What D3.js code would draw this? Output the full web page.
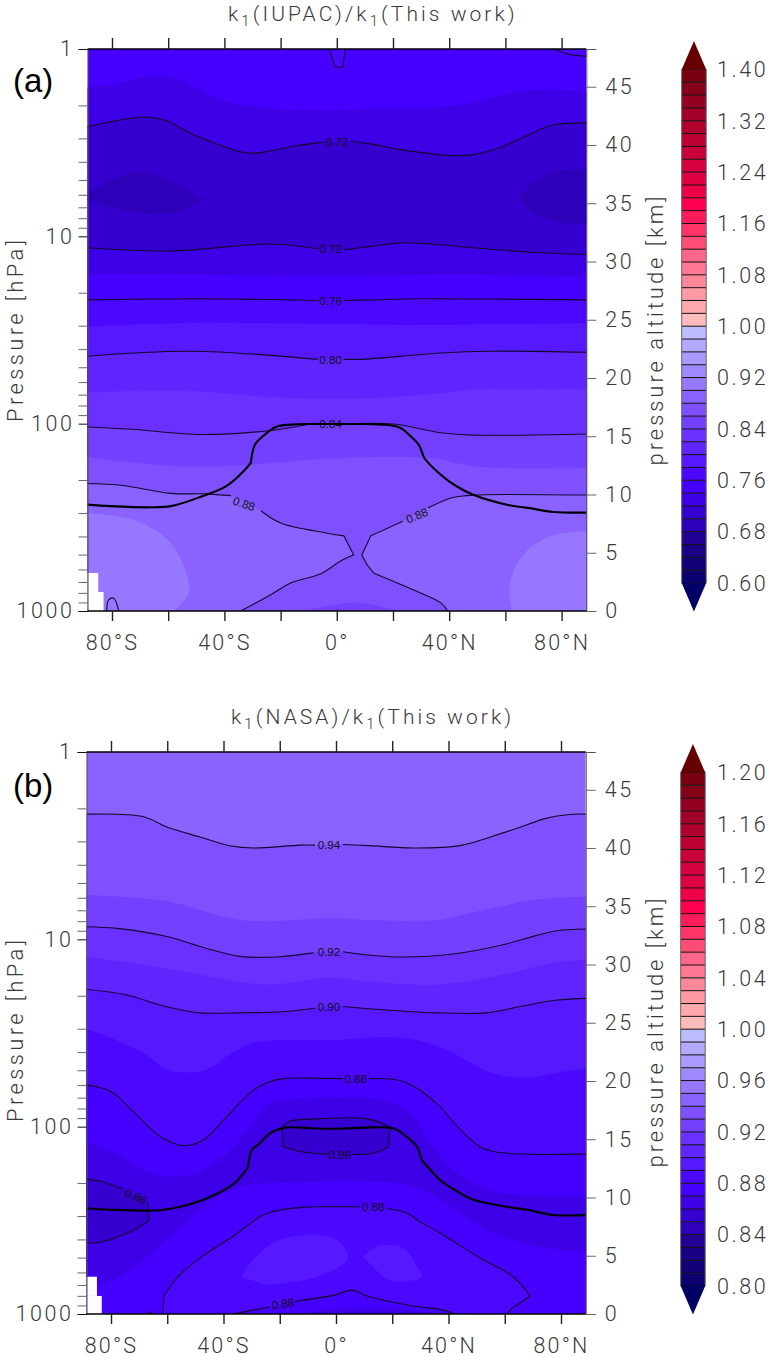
<!DOCTYPE html>
<html>
<head>
<meta charset="utf-8">
<script src="https://d3js.org/d3.v7.min.js"></script>
<style>
  html, body { margin: 0; padding: 0; background: #fff; }
  svg { display: block; }
  text { font-family: Roboto, "Noto Sans", sans-serif; font-weight: 300; fill: #3a3a3a; }
  .lbl { font-family: "Liberation Sans", sans-serif; font-weight: 400; fill: #111; font-size: 11.6px; }
  .tag { font-family: "Liberation Sans", sans-serif; font-weight: 400; fill: #000; font-size: 33px; }
</style>
</head>
<body>
<div id="chart"></div>
<script>
// all contour points are [latitude, pressure altitude km], null = gap for the label
const latTicks = [-80, -60, -40, -20, 0, 20, 40, 60, 80];
const latLabels = { "-80": "80°S", "-40": "40°S", "0": "0°", "40": "40°N", "80": "80°N" };
const pressTicks = [1, 2, 3, 4, 5, 6, 7, 8, 9, 10, 20, 30, 40, 50, 60, 70, 80, 90, 100, 200, 300, 400, 500, 600, 700, 800, 900, 1000];
const pressLabels = [1, 10, 100, 1000];
const altTicks = [0, 5, 10, 15, 20, 25, 30, 35, 40, 45];

// palette, index 0 = bottom segment
const barColors = ["#0c0070", "#120078", "#1a0084", "#220094", "#2e00b9", "#3500cf", "#3d00e6", "#4600ff", "#4c08ff", "#5618ff",
  "#6024ff", "#6a30ff", "#7440ff", "#7e50ff", "#8a62ff", "#9677ff", "#a088ff", "#aa99ff", "#b3a9ff", "#bcbcff",
  "#ffbcbc", "#ffa9ad", "#ff99a3", "#ff8898", "#ff7790", "#ff6688", "#ff4d75", "#ff3366", "#ff1a5a", "#ff0050",
  "#ee0048", "#e00044", "#d40040", "#c8003a", "#bc0034", "#b0002e", "#a20028", "#940020", "#860018", "#780010"];
const barLow = "#000066";
const barHigh = "#660000";

const aBarTicks = [0.60, 0.68, 0.76, 0.84, 0.92, 1.00, 1.08, 1.16, 1.24, 1.32, 1.40];
const bBarTicks = [0.80, 0.84, 0.88, 0.92, 0.96, 1.00, 1.04, 1.08, 1.12, 1.16, 1.20];

// panel (a) contour lines, a doubled point keeps a sharp corner
const a072top = [[-90,41.5],[-80.5,42],[-68,42.4],[-61,42.1],[-52,41],[-43,40.1],[-34,39.4],[-29,39.3],[-23.5,39.5],[-14,39.95],[-5,40.25],null,[5,40.3],[12,40.1],[22.8,39.6],[40.5,39.1],[47.7,39.15],[53,39.4],[58.4,39.8],[64,40.4],[69,40.95],[74,41.5],[79,41.8],[90,41.9]];
const a072low = [[-90,31.2],[-59,30.9],[-23.5,31.5],[-6.8,31.1],null,[2.5,31],[12,31.3],[22.8,31.6],[33.5,31.5],[47.7,31.2],[69,30.8],[90,30.6]];
const a076 = [[-90,26.7],[-48,26.8],[-6.8,26.65],null,[2.5,26.65],[12,26.7],[30,26.8],[90,26.7]];
const a080 = [[-90,21.85],[-52,22.3],[-6.8,21.6],null,[2.5,21.6],[8.5,21.6],[37,22.15],[55,22.3],[90,22.2]];
const a084 = [[-90,15.8],[-73,15.6],[-48,15.15],[-23.5,15.5],[-9.5,16.05],null,[3,16.05],[20,16.05],[37,15.3],[48.8,15.1],[90,15.2]];
const a088left = [[-90,10.95],[-76.9,10.8],[-59,10.1],[-46.6,10.05],[-37.7,9.9],null,[-27,8.6],[-20,7.55],[-3.9,6.7],[2.5,6.45],[2.5,6.45],[6,4.8],[6,4.8],[1.4,4.3],[-5.7,3.2],[-16.4,2.4],[-23.5,1.4],[-34.2,0]];
const a088right = [[90,9.95],[60,10],[48.8,9.95],[44,9.85],[40.6,9.7],[32.4,8.85],null,[23.5,7.7],[12.1,6.45],[12.1,6.45],[8.9,4.8],[8.9,4.8],[11,3.9],[13.2,3.25],[13.2,3.25],[27.4,1.8],[37,0.7],[39.5,0]];
const a088foot = [[-81.9,0],[-81.2,0.95],[-79.4,1.1],[-77.6,0]];
const a076cap = [[-2.8,48.4],[-1.4,47.3],[-0.7,46.7],[-0.7,46.7],[2.1,46.7],[2.1,46.7],[3.2,48.4]];
const a076corner = [[76.9,48.3],[80.8,47.9],[84.3,47.7],[90,47.6]];
const aTropo = [[-90,9.15],[-80.4,9],[-66.2,8.9],[-59,9],[-48.4,9.8],[-39.5,10.7],[-34.2,11.75],[-30.6,12.7],[-30.6,12.7],[-29.2,14.25],[-26.3,15],[-21.7,15.8],[-16.4,16],[-8,16.05],[0,16.05],[10,16.05],[19.2,15.95],[22.8,15.7],[26.3,15],[29.2,14.25],[31,13.2],[31.7,12.95],[37,11.7],[42.3,10.75],[48.8,9.95],[60.9,9.1],[68,8.85],[77.2,8.5],[90,8.45]];

// panel (a) colour band edges without a drawn line
const aEdge074 = [[-90,44.9],[-80.4,45.15],[-66.2,45.9],[-55.5,45.6],[-43,44],[-27,43.2],[-5.7,43],[12,43.1],[36,43.2],[47.7,43.6],[59.4,44.3],[71.5,44.7],[90,44.55]];
const aEdge074low = [[-90,28.85],[-48,28.85],[0,28.75],[47.7,28.85],[90,28.65]];
const aEdge078 = [[-90,24.4],[-55,24.7],[23,24.55],[55,24.6],[90,24.7]];
const aEdge082 = [[-90,18.75],[-55,18.9],[-20,18.3],[5,18.2],[37,18.7],[48.8,19],[90,19]];
const aEdge086 = [[-90,13.2],[-59,12.45],[-38,12.45],[0,13.1],[33,13.1],[51,12.35],[90,12.25]];
const aBlobLeft = [[-90,8.4],[-72.2,7.8],[-60.1,6.1],[-54.4,3.8],[-52.7,1.55],[-58,0]];
const aBlobRight = [[90,6.85],[77.2,6.5],[68,5.25],[62.6,3.25],[61.6,1.55],[62.3,0]];
const aFoot = [[-12.8,0],[-1,0.5],[5.7,0.7],[13.2,0.5],[21.7,0]];
const aDeepLeft = [[-90,35.5],[-80.4,37],[-68.7,37.7],[-58,36.8],[-47.7,35.3],[-47.7,35.3],[-58,34.25],[-68.7,34.15],[-80.4,34.7],[-90,35.4]];
const aDeepRight = [[90,37.85],[77.2,37.7],[70.1,36.8],[64.8,35.45],[64.8,35.45],[70.1,34.15],[78.6,33.4],[90,33.3]];

// panel (b) contour lines
const b094 = [[-90,42.9],[-68.7,42.7],[-60.1,41.8],[-48.4,40.95],[-37.7,40.2],[-29.5,40],[-12.8,40.25],[-7.5,40.25],null,[2.5,40.3],[12.1,40.2],[27.4,40],[44.1,40.2],[59.4,41.3],[68,42],[74,42.5],[78.6,42.75],[84,42.9],[90,42.9]];
const b092 = [[-90,33.25],[-78,33.1],[-60.1,32.4],[-46.3,31.4],[-34.2,30.7],[-21,30.65],[-8,31],null,[2.5,31.1],[12.1,30.8],[23.8,30.65],[41.6,30.9],[59.4,31.7],[71.5,32.5],[78.6,32.9],[90,33.05]];
const b090 = [[-90,27.9],[-74.7,27.4],[-62.3,26.5],[-55,26.1],[-48.4,25.85],[-34,25.85],[-18.9,25.95],[-7.5,26.25],null,[2.5,26.4],[12.1,26.2],[35.9,25.85],[53.4,25.85],[65.5,26.4],[78.6,26.95],[90,27.1]];
const b088top = [[-90,19.7],[-80.1,19.1],[-72,17.35],[-62.3,15.2],[-54.1,14.45],[-47,14.95],[-38.8,16.95],[-29.5,19.2],[-24,19.9],[-18.9,20.2],[-10,20.25],[2.5,20.2],null,[11.7,20.2],[20.3,20.15],[25,19.85],[29.9,19.2],[37,17.8],[43.1,16.1],[51.2,14.35],[56,13.95],[60.9,13.8],[72,13.7],[90,13.75]];
const b086box = [[6,13.7],[13.2,13.8],[18.7,14.35],[18.7,14.35],[19.2,16.05],[19.2,16.05],[11,16.75],[-6.8,16.75],[-16.4,16.55],[-19.3,16.05],[-19.3,16.05],[-18.9,14.4],[-18.9,14.4],[-12.8,13.95],[-2.8,13.7]];
const b086left = [[-90,11.6],[-83,11.35],[-75.7,10.7],null,[-67,9.6],[-67,9.6],[-66.6,8],[-66.6,8],[-73.2,7.05],[-83,6.2],[-90,6.1]];
const b088dome = [[-61.5,0],[-61.2,1.55],[-61.2,1.55],[-56.2,3.2],[-48.4,4.8],[-36.7,6.65],[-27,8.35],[-23,8.75],[-18,9],[-12,9.15],[-6.8,9.2],[0,9.2],[8.5,9.2],null,[18.1,9.05],[25.3,8.65],[30,7.9],[37,6.95],[51.2,4.8],[63,3.2],[69,1.55],[69,1.55],[65.5,0.95],[62.6,0.5],[60.9,0]];
const b088foot = [[-36.7,0],[-23.5,0.6],null,[-14.6,1.1],[-1,1.6],[5.7,2.05],[11,1.55],[29.9,0.6],[37,0.4],[42.3,0]];
const b088speck = [[-66.9,0],[-66.2,0.2],[-65.5,0]];
const bTropo = [[-90,9.1],[-80.4,8.95],[-62.6,8.9],[-55.5,9.2],[-44.8,10.05],[-36,11.25],[-31.3,12.6],[-31.3,12.6],[-29.9,14.1],[-27.8,14.5],[-23.5,15.5],[-18.1,16],[-9,15.95],[0,15.9],[10,16],[19.2,16],[21.7,15.8],[28.8,14.35],[30.6,13.2],[33.5,12.4],[37,11.5],[42.5,10.6],[48.8,9.8],[60.9,9.2],[68,8.95],[77.2,8.5],[90,8.5]];

// panel (b) colour band edges without a drawn line
const bEdge093 = [[-90,35.95],[-60.1,35.4],[-34.2,33.8],[-1,33.95],[12.1,33.8],[35.9,33.8],[47.7,34.4],[71.5,35.55],[90,35.8]];
const bEdge091 = [[-90,30.65],[-72.6,30.1],[-48.4,29.1],[-24.6,28.25],[-3.2,28.85],[12.1,28.5],[35.9,28.25],[59.4,29.1],[77.2,30.1],[90,30.4]];
const bEdge089 = [[-90,24.55],[-78.3,23.5],[-68.7,22.4],[-60.1,20.95],[-53,20.7],[-46,20.95],[-36.7,22.4],[-29.5,23.25],[-1,23.5],[23,23.7],[37.4,22.85],[55,20.7],[66.9,20.25],[78.6,20.7],[90,21.1]];
const bEdge087top = [[-90,14.8],[-78.3,13.8],[-68.7,12.35],[-58,11.75],[-48.4,12.2],[-38.8,13.8],[-30.6,16.05],[-24.6,17.95],[-17.4,18.35],[16.7,18.35],[25.3,17.5],[33.5,14.7],[40.6,12.6],[48.8,11.25],[58.4,10.4],[90,10.05]];
const bEdge087low = [[-90,2.05],[-83,2.5],[-73,3.8],[-60.1,6.35],[-48.4,8.95],[-34.2,10.9],[-18.9,11.25],[25.3,11.05],[37,9.8],[53.4,7.2],[72.2,5.75],[90,5.25]];
const bBlobLeft = [[-33.6,3.2],[-29.5,4.65],[-20,6.35],[-1,6.5],[4.3,4.8],[-6.8,3.2],[-24.6,2.5]];
const bBlobRight = [[9.6,4.9],[14.6,5.8],[23.8,5.65],[28.8,4.05],[30.6,3.2],[19.2,2.9],[13.2,4.05]];
const bFoot = [[-12,0],[-1,0.4],[22,0.4],[36,0]];

// missing data cells in the lower left corner [lat0, lat1, km0, km1]
const aMissing = [[-90,-84.9,1.63,3.26],[-90,-83,-1,1.63]];
const bMissing = [[-90,-85,1.55,3.2],[-90,-83.3,-1,1.55]];

const noLine = (p) => p.filter(Boolean);
const below = [[90, -1], [-90, -1]];

const aBands = [
  { v: 0.76, pts: a076cap, close: [] },
  { v: 0.76, pts: a076corner, close: [[90, 49]] },
  { v: 0.72, pts: aEdge074, close: below },
  { v: 0.70, pts: a072top, close: below },
  { v: 0.72, pts: a072low, close: below },
  { v: 0.74, pts: aEdge074low, close: below },
  { v: 0.76, pts: a076, close: below },
  { v: 0.78, pts: aEdge078, close: below },
  { v: 0.80, pts: a080, close: below },
  { v: 0.82, pts: aEdge082, close: below },
  { v: 0.84, pts: a084, close: below },
  { v: 0.86, pts: aEdge086, close: below },
  { v: 0.88, pts: a088left, close: [[-90, -1]] },
  { v: 0.88, pts: a088right, close: [[90, -1]] },
  { v: 0.90, pts: aBlobLeft, close: [[-90, -1]] },
  { v: 0.90, pts: aBlobRight, close: [[90, -1]] },
  { v: 0.84, pts: aFoot, close: [] },
  { v: 0.68, pts: aDeepLeft, close: [] },
  { v: 0.68, pts: aDeepRight, close: [] }
];
const bBands = [
  { v: 0.93, pts: b094, close: below },
  { v: 0.92, pts: bEdge093, close: below },
  { v: 0.91, pts: b092, close: below },
  { v: 0.90, pts: bEdge091, close: below },
  { v: 0.89, pts: b090, close: below },
  { v: 0.88, pts: bEdge089, close: below },
  { v: 0.87, pts: b088top, close: below },
  { v: 0.86, pts: bEdge087top, close: below },
  { v: 0.87, pts: bEdge087low, close: below },
  { v: 0.88, pts: b088dome, close: [] },
  { v: 0.87, pts: b088foot, close: [] },
  { v: 0.86, pts: bFoot, close: [] },
  { v: 0.89, pts: bBlobLeft, close: [] },
  { v: 0.89, pts: bBlobRight, close: [] },
  { v: 0.85, pts: b086box, close: [] },
  { v: 0.85, pts: b086left, close: [] }
];

const aLines = [a072top, a072low, a076, a080, a084, a088left, a088right, a088foot, a076cap, a076corner];
const bLines = [b094, b092, b090, b088top, b086box, b086left, b088dome, b088foot, b088speck];

// contour label text, lat, km, rotation
const aLabels = [["0.72", 0, 40.3, 0], ["0.72", -2.2, 31.05, 0], ["0.76", -2.2, 26.65, 0], ["0.80", -2.2, 21.6, 0], ["0.84", -2.2, 16.1, 0], ["0.88", -33, 9.2, 18], ["0.88", 28.5, 8.2, -23]];
const bLabels = [["0.94", -2.5, 40.3, 0], ["0.92", -2.5, 31.05, 0], ["0.90", -2.5, 26.35, 0], ["0.88", 7, 20.2, 0], ["0.86", 1.3, 13.7, 0], ["0.88", 13.2, 9.2, 0], ["0.88", -18.9, 0.9, -8], ["0.86", -71.2, 10.1, 22]];

const svg = d3.select("#chart").append("svg").attr("width", 770).attr("height", 1357);

function drawPanel(p) {
  const g = svg.append("g");
  const x = d3.scaleLinear().domain([-80, 80]).range(p.xRange);
  const z = d3.scaleLinear().domain([0, 48.24]).range([p.bottom, p.top]);
  const y = d3.scaleLog().domain([1000, 1]).range([p.bottom, p.top]);
  const left = x(-88.7);
  const right = x(88.8);

  const clipId = "clip" + p.tag[1];
  g.append("clipPath").attr("id", clipId).append("rect")
    .attr("x", left).attr("y", p.top).attr("width", right - left).attr("height", p.bottom - p.top);

  const color = (v) => barColors[Math.round((v - p.barMin) / p.step)];
  const line = d3.line().defined((d) => d).x((d) => x(d[0])).y((d) => z(d[1])).curve(d3.curveCatmullRom.alpha(0.5));

  const plot = g.append("g").attr("clip-path", `url(#${clipId})`);
  plot.append("rect").attr("x", left).attr("y", p.top).attr("width", right - left).attr("height", p.bottom - p.top)
    .attr("fill", color(p.baseValue));

  plot.selectAll(".band").data(p.bands).enter().append("path").attr("class", "band")
    .attr("d", (b) => line(noLine(b.pts)) + b.close.map((c) => `L${x(c[0])},${z(c[1])}`).join("") + "Z")
    .attr("fill", (b) => color(b.v))
    .attr("stroke", (b) => color(b.v)).attr("stroke-width", 0.4);

  plot.selectAll(".missing").data(p.missing).enter().append("rect").attr("class", "missing")
    .attr("x", (c) => x(c[0])).attr("width", (c) => x(c[1]) - x(c[0]))
    .attr("y", (c) => z(c[3])).attr("height", (c) => z(c[2]) - z(c[3]))
    .attr("fill", "#fff");

  plot.selectAll(".iso").data(p.lines).enter().append("path").attr("class", "iso")
    .attr("d", line).attr("fill", "none").attr("stroke", "#14082a").attr("stroke-width", 1.1);
  plot.append("path").attr("d", line(p.tropo)).attr("fill", "none").attr("stroke", "#000").attr("stroke-width", 2.1);

  plot.selectAll(".lbl").data(p.labels).enter().append("text").attr("class", "lbl")
    .attr("text-anchor", "middle").attr("dy", "0.36em")
    .attr("transform", (d) => `translate(${x(d[1])},${z(d[2])}) rotate(${d[3]})`)
    .text((d) => d[0]);

  // axes
  const leftAxis = d3.axisLeft(y).tickValues(pressTicks).tickSize(9).tickPadding(4)
    .tickFormat((d) => pressLabels.includes(d) ? d : "");
  const rightAxis = d3.axisRight(z).tickValues(altTicks).tickSize(10).tickPadding(9).tickFormat((d) => d);
  const bottomAxis = d3.axisBottom(x).tickValues(latTicks).tickSize(10).tickPadding(14)
    .tickFormat((d) => latLabels[d] || "");
  const topAxis = d3.axisTop(x).tickValues(latTicks).tickSize(11).tickFormat("");

  const ga = g.append("g").attr("transform", `translate(${left},0)`).call(leftAxis);
  const gr = g.append("g").attr("transform", `translate(${right},0)`).call(rightAxis);
  const gb = g.append("g").attr("transform", `translate(0,${p.bottom})`).call(bottomAxis);
  const gt = g.append("g").attr("transform", `translate(0,${p.top})`).call(topAxis);

  [ga, gr].forEach((s) => {
    s.select(".domain").attr("stroke", "#555").attr("stroke-width", 1);
    s.selectAll(".tick line").attr("stroke", "#666").attr("stroke-width", 1);
    s.selectAll(".tick text").attr("font-size", 21.5).attr("letter-spacing", 2.6).attr("fill", "#3a3a3a");
  });
  ga.selectAll(".tick line").attr("stroke", (d) => pressLabels.includes(d) ? "#111" : "#666");
  [gb, gt].forEach((s) => {
    s.select(".domain").attr("stroke", "#000").attr("stroke-width", 1.6).attr("d", `M${left},0H${right}`);
    s.selectAll(".tick line").attr("stroke", "#222").attr("stroke-width", 1.4);
  });
  gb.selectAll(".tick text").attr("font-size", 21.5).attr("letter-spacing", 2.2).attr("fill", "#3a3a3a");

  // titles
  const title = g.append("text").attr("x", p.titleX).attr("y", p.titleY).attr("font-size", 21).attr("letter-spacing", p.titleGap);
  p.title.forEach((part) => {
    title.append("tspan").text(part[0]);
    title.append("tspan").attr("font-size", 15).attr("dy", 5).text("1");
    title.append("tspan").attr("dy", -5).text(part[1]);
  });
  g.append("text").attr("class", "tag").attr("x", 13).attr("y", p.tagY).text(p.tag);
  g.append("text").attr("transform", `translate(23,${p.leftMid}) rotate(-90)`).attr("text-anchor", "middle")
    .attr("font-size", 22).attr("textLength", 182).text("Pressure [hPa]");
  g.append("text").attr("transform", `translate(663,${p.rightMid}) rotate(-90)`).attr("text-anchor", "middle")
    .attr("font-size", 22).attr("textLength", 269).text("pressure altitude [km]");

  // colour bar
  const barLeft = p.barX;
  const barW = 24.5;
  const bar = d3.scaleLinear().domain([p.barMin, p.barMin + p.step * 40]).range([p.barBottom, p.barBottom - 40 * 12.84]);
  const barTop = bar(p.barMin + p.step * 40);
  g.append("g").selectAll("rect").data(barColors).enter().append("rect")
    .attr("x", barLeft).attr("width", barW)
    .attr("y", (c, i) => bar(p.barMin + p.step * (i + 1))).attr("height", bar(0) - bar(p.step))
    .attr("fill", (c) => c);
  g.append("g").selectAll("line").data(d3.range(41)).enter().append("line")
    .attr("x1", barLeft).attr("x2", barLeft + barW)
    .attr("y1", (i) => bar(p.barMin + p.step * i)).attr("y2", (i) => bar(p.barMin + p.step * i))
    .attr("stroke", "#111").attr("stroke-width", 1);
  g.append("path").attr("fill", "none").attr("stroke", "#666").attr("stroke-width", 1)
    .attr("d", `M${barLeft},${barTop}V${p.barBottom}M${barLeft + barW},${barTop}V${p.barBottom}`);
  g.append("path").attr("fill", barHigh)
    .attr("d", `M${barLeft},${barTop}L${barLeft + barW / 2},${barTop - 28.5}L${barLeft + barW},${barTop}Z`);
  g.append("path").attr("fill", barLow)
    .attr("d", `M${barLeft},${p.barBottom}L${barLeft + barW / 2},${p.barBottom + 28.5}L${barLeft + barW},${p.barBottom}Z`);
  g.append("g").selectAll("text").data(p.barTicks).enter().append("text")
    .attr("x", 717).attr("y", (d) => bar(d)).attr("dy", "0.36em")
    .attr("font-size", 21.5).attr("letter-spacing", 2.6)
    .text((d) => d.toFixed(2));
}

drawPanel({
  tag: "(a)", tagY: 92, xRange: [112, 561.6], top: 49, bottom: 611,
  baseValue: 0.74, bands: aBands, lines: aLines, tropo: aTropo, labels: aLabels, missing: aMissing,
  title: [["k", "(IUPAC)/"], ["k", "(This work)"]], titleX: 228, titleY: 21, titleGap: 3.05,
  leftMid: 331, rightMid: 331,
  barX: 681.7, barMin: 0.60, step: 0.02, barBottom: 583, barTicks: aBarTicks
});

drawPanel({
  tag: "(b)", tagY: 797, xRange: [111, 561], top: 752, bottom: 1314,
  baseValue: 0.94, bands: bBands, lines: bLines, tropo: bTropo, labels: bLabels, missing: bMissing,
  title: [["k", "(NASA)/"], ["k", "(This work)"]], titleX: 231, titleY: 724, titleGap: 3.05,
  leftMid: 1031, rightMid: 1033,
  barX: 680.7, barMin: 0.80, step: 0.01, barBottom: 1286, barTicks: bBarTicks
});
</script>
</body>
</html>
